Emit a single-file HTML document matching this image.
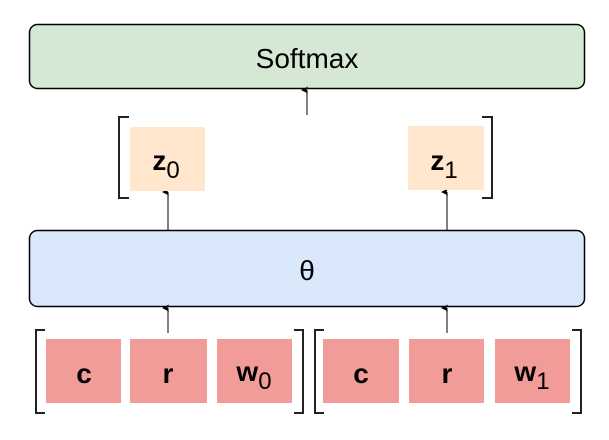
<!DOCTYPE html>
<html><head><style>
body{margin:0;width:609px;height:435px;background:#fff;overflow:hidden}
</style></head><body>
<svg width="609" height="435" viewBox="0 0 609 435" xmlns="http://www.w3.org/2000/svg" font-family="Liberation Sans, sans-serif">
<defs><marker id="a" markerWidth="8" markerHeight="8" refX="4" refY="6" orient="auto-start-reverse" markerUnits="userSpaceOnUse"><path d="M0.5,7 L4,0 L7.5,7 L4,5.5Z" fill="#000"/></marker></defs>
<rect x="29.5" y="24.5" width="555" height="64" rx="8" fill="#d5e8d4" stroke="#000" stroke-width="1.5"/>
<text x="307" y="68" font-size="28" text-anchor="middle">Softmax</text>
<rect x="29.5" y="230.5" width="555" height="76" rx="8" fill="#dae8fc" stroke="#000" stroke-width="1.5"/>
<text x="307" y="280" font-size="28" text-anchor="middle">θ</text>
<g stroke="#000" stroke-width="1" fill="none">
<line x1="307" y1="115" x2="307" y2="90" marker-end="url(#a)"/>
<line x1="168" y1="230" x2="168" y2="192" marker-end="url(#a)"/>
<line x1="447" y1="230" x2="447" y2="192" marker-end="url(#a)"/>
<line x1="168" y1="333" x2="168" y2="308" marker-end="url(#a)"/>
<line x1="447" y1="333" x2="447" y2="308" marker-end="url(#a)"/>
</g>
<rect x="130" y="127" width="75" height="64" fill="#ffe6cc"/>
<rect x="408" y="126" width="76" height="64" fill="#ffe6cc"/>
<g stroke="#222" stroke-width="2" fill="none">
<path d="M129,117 H119 V198 H129"/>
<path d="M482,117 H492 V198 H482"/>
<path d="M45,330 H36 V413 H45"/>
<path d="M294,330 H303 V413 H294"/>
<path d="M324,330 H315 V413 H324"/>
<path d="M572,330 H581 V413 H572"/>
</g>
<g fill="#f19c99">
<rect x="46" y="339" width="75" height="64"/>
<rect x="130" y="339" width="77" height="64"/>
<rect x="217" y="339" width="75" height="64"/>
<rect x="323" y="339" width="76" height="64"/>
<rect x="409" y="339" width="75" height="64"/>
<rect x="495" y="339" width="75" height="64"/>
</g>
<g font-size="28" font-weight="bold" text-anchor="middle">
<text x="84" y="383">c</text>
<text x="168" y="383">r</text>
<text x="361" y="383">c</text>
<text x="447" y="383">r</text>
</g>
<text x="166" y="170" font-size="28" font-weight="bold" text-anchor="middle">z<tspan font-weight="normal" font-size="24" dy="8">0</tspan></text>
<text x="444" y="170" font-size="28" font-weight="bold" text-anchor="middle">z<tspan font-weight="normal" font-size="24" dy="8">1</tspan></text>
<text x="254" y="381" font-size="28" font-weight="bold" text-anchor="middle">w<tspan font-weight="normal" font-size="24" dy="8">0</tspan></text>
<text x="532" y="381" font-size="28" font-weight="bold" text-anchor="middle">w<tspan font-weight="normal" font-size="24" dy="8">1</tspan></text>
</svg>
</body></html>
